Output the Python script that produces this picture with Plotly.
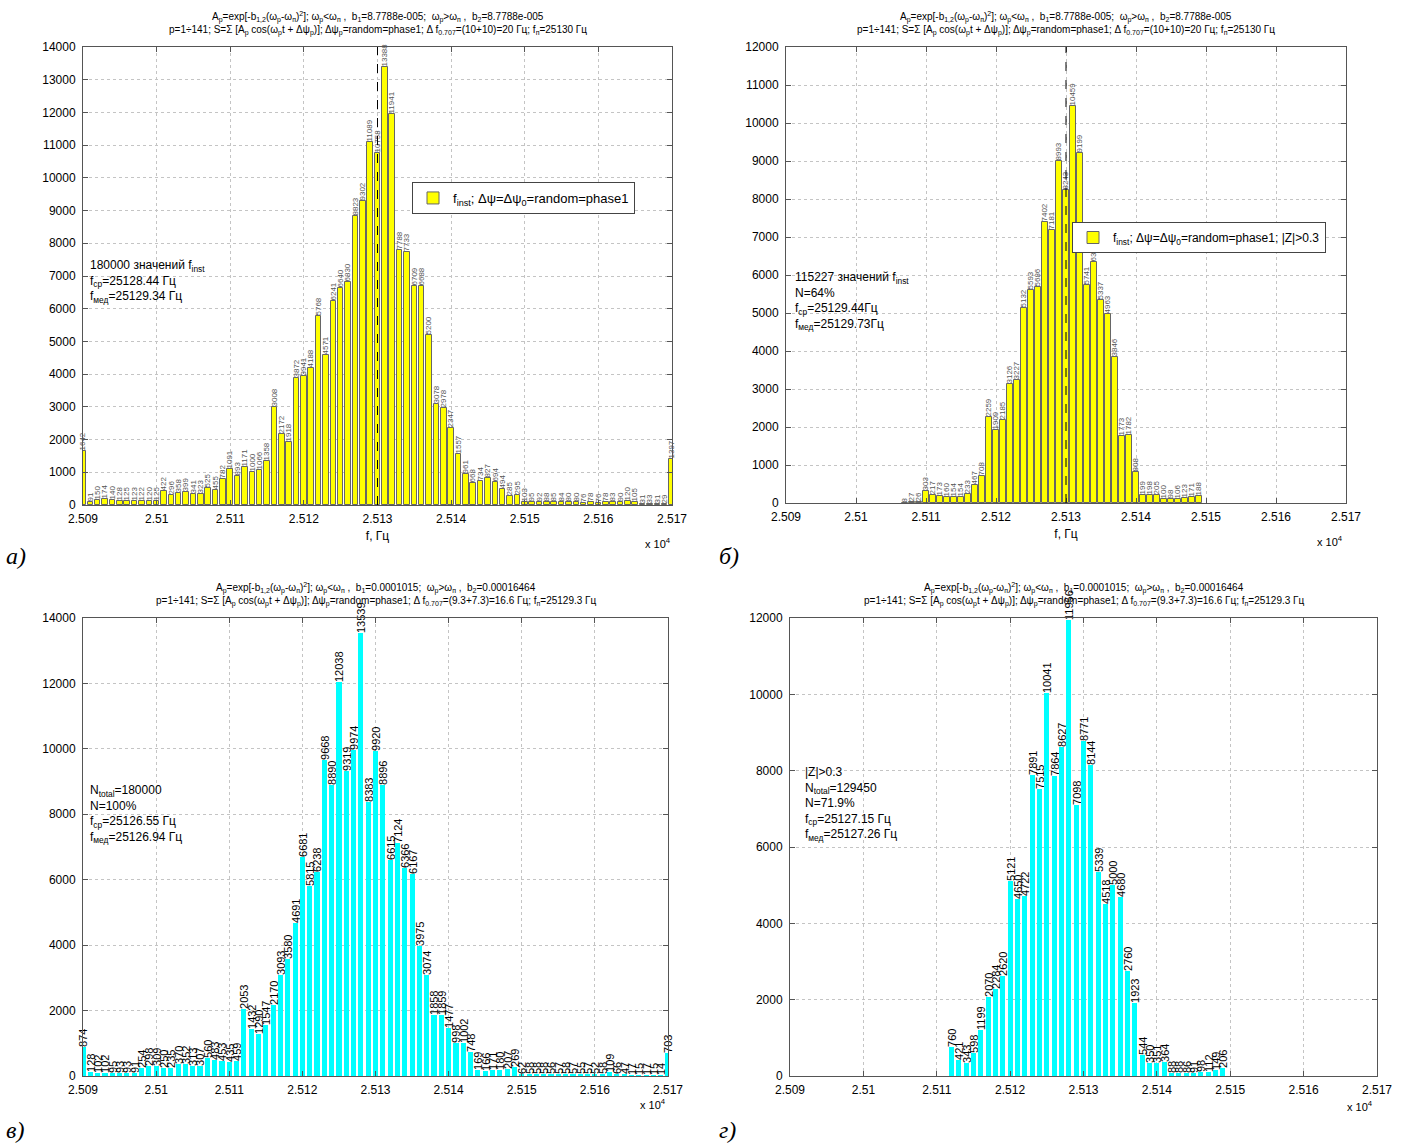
import plotly.graph_objects as go

# ---------------- DATA ----------------
bin_start_a = 25090
counts_a = [1642, 91, 150, 174, 140, 128, 125, 123, 122, 120, 125,
            422, 296, 358, 399, 341, 323, 525, 455, 782,
            1091, 893, 1171, 1000, 1066, 1358, 3008, 2172, 1918, 3872,
            3941, 4188, 5768, 4571, 6241, 6640, 6830, 8823, 9302, 11089,
            10758, 13388, 11941, 7788, 7733, 6709, 6688, 5200, 3078, 2978,
            2347, 1557, 961, 668, 734, 827, 694, 494, 285, 295,
            103, 95, 92, 88, 85, 84, 80, 80, 76, 78,
            76, 78, 83, 90, 120, 105, 31, 33, 31, 29,
            1397]

bin_start_b = 25107
counts_b = [8, 27, 26,
            303, 217, 173, 160, 154, 154, 233, 467, 708, 2259,
            1909, 2185, 3126, 3227, 5132, 5593, 5686, 7402, 7181, 8993,
            8243, 10459, 9199, 5741, 6339, 5337, 4963, 3846, 1773, 1782,
            808, 199, 198, 205, 100, 98, 106, 123, 171, 188]

bin_start_c = 25090
counts_c = [874, 128, 102, 102, 95, 93, 93, 91, 254, 298,
            309, 250, 235, 370, 352, 313, 307, 560, 483, 453,
            435, 459, 2053, 1432, 1290, 1547, 2170, 3093, 3580, 4691,
            6681, 5815, 6238, 9668, 8890, 12038, 9319, 9974, 13539, 8383,
            9920, 8896, 6615, 7124, 6366, 6167, 3975, 3074, 1858, 1859,
            1477, 998, 1002, 748, 169, 166, 171, 180, 207, 269,
            62, 58, 58, 58, 56, 57, 58, 57, 55, 57,
            52, 58, 109, 66, 47, 17, 15, 17, 15, 14,
            703]

bin_start_d = 25112
counts_d = [760, 421, 343, 598, 1199, 2070, 2284, 2620,
            5121, 4650, 4722, 7891, 7515, 10041, 7864, 8627, 11956, 7098,
            8771, 8144, 5339, 4518, 5000, 4680, 2760, 1923, 544, 350,
            351, 364, 88, 88, 86, 91, 98, 112, 149, 206]

f_n_ab = 25130  # dashed line (f_п)

x_tick_vals = [25090, 25100, 25110, 25120, 25130, 25140, 25150, 25160, 25170]
x_tick_text = ["2.509", "2.51", "2.511", "2.512", "2.513", "2.514", "2.515", "2.516", "2.517"]

title_ab_1 = ("A<sub>p</sub>=exp[-b<sub>1,2</sub>(ω<sub>p</sub>-ω<sub>п</sub>)<sup>2</sup>]; "
              "ω<sub>p</sub>&lt;ω<sub>п</sub> ,  b<sub>1</sub>=8.7788e-005;  "
              "ω<sub>p</sub>&gt;ω<sub>п</sub> ,  b<sub>2</sub>=8.7788e-005")
title_ab_2 = ("p=1÷141; S=Σ [A<sub>p</sub> cos(ω<sub>p</sub>t + Δψ<sub>p</sub>)]; "
              "Δψ<sub>p</sub>=random=phase1; Δ f<sub>0.707</sub>=(10+10)=20 Гц; f<sub>п</sub>=25130 Гц")
title_cd_1 = ("A<sub>p</sub>=exp[-b<sub>1,2</sub>(ω<sub>p</sub>-ω<sub>п</sub>)<sup>2</sup>]; "
              "ω<sub>p</sub>&lt;ω<sub>п</sub> ,  b<sub>1</sub>=0.0001015;  "
              "ω<sub>p</sub>&gt;ω<sub>п</sub> ,  b<sub>2</sub>=0.00016464")
title_cd_2 = ("p=1÷141; S=Σ [A<sub>p</sub> cos(ω<sub>p</sub>t + Δψ<sub>p</sub>)]; "
              "Δψ<sub>p</sub>=random=phase1; Δ f<sub>0.707</sub>=(9.3+7.3)=16.6 Гц; f<sub>п</sub>=25129.3 Гц")

stats_a = "180000 значений f<sub>inst</sub><br>f<sub>ср</sub>=25128.44 Гц<br>f<sub>мед</sub>=25129.34 Гц"
stats_b = "115227 значений f<sub>inst</sub><br>N=64%<br>f<sub>ср</sub>=25129.44Гц<br>f<sub>мед</sub>=25129.73Гц"
stats_c = "N<sub>total</sub>=180000<br>N=100%<br>f<sub>ср</sub>=25126.55 Гц<br>f<sub>мед</sub>=25126.94 Гц"
stats_d = "|Z|&gt;0.3<br>N<sub>total</sub>=129450<br>N=71.9%<br>f<sub>ср</sub>=25127.15 Гц<br>f<sub>мед</sub>=25127.26 Гц"

legend_a = "f<sub>inst</sub>; Δψ=Δψ<sub>0</sub>=random=phase1"
legend_b = "f<sub>inst</sub>; Δψ=Δψ<sub>0</sub>=random=phase1; |Z|&gt;0.3"

panel_labels = ["а)", "б)", "в)", "г)"]

# ---------------- FIGURE ----------------
W, H = 1409, 1144
FONT = "Liberation Sans, Arial, sans-serif"


def px_x(p):
    return p / W


def px_y(p):
    return 1 - p / H


fig = go.Figure()


def bins(start, counts):
    return [start + i for i in range(len(counts))]


common_bar = dict(textposition="outside", textangle=-90, constraintext="none",
                  cliponaxis=False)

fig.add_trace(go.Bar(x=bins(bin_start_a, counts_a), y=counts_a, text=counts_a,
                     width=0.75, marker=dict(color="#ffff00", line=dict(color="#666666", width=1)),
                     textfont=dict(size=8, color="#555555", family=FONT),
                     name=legend_a, legend="legend", xaxis="x", yaxis="y", **common_bar))
fig.add_trace(go.Bar(x=bins(bin_start_b, counts_b), y=counts_b, text=counts_b,
                     width=0.75, marker=dict(color="#ffff00", line=dict(color="#666666", width=1)),
                     textfont=dict(size=8, color="#555555", family=FONT),
                     name=legend_b, legend="legend2", xaxis="x2", yaxis="y2", **common_bar))
fig.add_trace(go.Bar(x=bins(bin_start_c, counts_c), y=counts_c, text=counts_c,
                     width=0.7, marker=dict(color="#00ffff", line=dict(width=0)),
                     textfont=dict(size=11, color="#000000", family=FONT),
                     showlegend=False, xaxis="x3", yaxis="y3", **common_bar))
fig.add_trace(go.Bar(x=bins(bin_start_d, counts_d), y=counts_d, text=counts_d,
                     width=0.7, marker=dict(color="#00ffff", line=dict(width=0)),
                     textfont=dict(size=11, color="#000000", family=FONT),
                     showlegend=False, xaxis="x4", yaxis="y4", **common_bar))

panels = [
    ("xaxis", "yaxis", (83, 672), (47, 505), 14000, 1000),
    ("xaxis2", "yaxis2", (786, 1346), (47, 503), 12000, 1000),
    ("xaxis3", "yaxis3", (83, 668), (618, 1076), 14000, 2000),
    ("xaxis4", "yaxis4", (790, 1377), (618, 1076), 12000, 2000),
]

axis_common = dict(showline=True, linecolor="#555555", linewidth=1, mirror="ticks",
                   ticks="inside", ticklen=5, tickcolor="#555555",
                   showgrid=True, gridcolor="#c4c4c4", griddash="dot", gridwidth=1,
                   zeroline=False, automargin=False,
                   tickfont=dict(size=12, color="#000000", family=FONT))

layout_axes = {}
for i, (xa, ya, (x0, x1), (y0, y1), ymax, dt) in enumerate(panels):
    n = "" if i == 0 else str(i + 1)
    layout_axes[xa] = dict(domain=[px_x(x0), px_x(x1)], anchor="y" + n,
                           range=[25090, 25170], tickvals=x_tick_vals, ticktext=x_tick_text,
                           ticklabelstandoff=3, **axis_common)
    layout_axes[ya] = dict(domain=[px_y(y1), px_y(y0)], anchor="x" + n,
                           range=[0, ymax], dtick=dt, tick0=0, tickformat="d",
                           ticklabelstandoff=4, **axis_common)

layout_axes["xaxis"]["title"] = dict(text="f, Гц", font=dict(size=12, family=FONT), standoff=6)
layout_axes["xaxis2"]["title"] = dict(text="f, Гц", font=dict(size=12, family=FONT), standoff=6)

fig.update_layout(**layout_axes)

ann = []
for (cx, ytop, l1, l2) in [((83 + 672) / 2, 17, title_ab_1, title_ab_2),
                            ((786 + 1346) / 2, 17, title_ab_1, title_ab_2),
                            ((83 + 668) / 2, 588, title_cd_1, title_cd_2),
                            ((790 + 1377) / 2, 588, title_cd_1, title_cd_2)]:
    ann.append(dict(text=l1, x=px_x(cx), y=px_y(ytop), xref="paper", yref="paper",
                    xanchor="center", yanchor="middle", showarrow=False,
                    font=dict(size=10, family=FONT, color="#000")))
    ann.append(dict(text=l2, x=px_x(cx), y=px_y(ytop + 13), xref="paper", yref="paper",
                    xanchor="center", yanchor="middle", showarrow=False,
                    font=dict(size=10, family=FONT, color="#000")))

for (txt, x, y) in [(stats_a, 88, 256), (stats_b, 793, 268), (stats_c, 88, 781), (stats_d, 803, 763)]:
    ann.append(dict(text=txt, x=px_x(x), y=px_y(y), xref="paper", yref="paper",
                    xanchor="left", yanchor="top", align="left", showarrow=False,
                    font=dict(size=12, family=FONT, color="#000")))

for (x, y) in [(643, 543), (1315, 541), (638, 1104), (1345, 1106)]:
    ann.append(dict(text="x 10<sup>4</sup>", x=px_x(x), y=px_y(y), xref="paper", yref="paper",
                    xanchor="left", yanchor="middle", showarrow=False,
                    font=dict(size=11, family=FONT, color="#000")))

for (lab, x, y) in zip(panel_labels, [4, 717, 4, 717], [556, 556, 1130, 1130]):
    ann.append(dict(text="<i>" + lab + "</i>", x=px_x(x), y=px_y(y), xref="paper", yref="paper",
                    xanchor="left", yanchor="middle", showarrow=False,
                    font=dict(size=24, family="Liberation Serif, Times New Roman, serif", color="#000")))

shapes = [
    dict(type="line", xref="x", yref="y domain", x0=f_n_ab, x1=f_n_ab, y0=0, y1=1,
         line=dict(color="#000", width=1, dash="dash")),
    dict(type="line", xref="x2", yref="y2 domain", x0=f_n_ab, x1=f_n_ab, y0=0, y1=1,
         line=dict(color="#000", width=1, dash="dash")),
]

fig.update_layout(
    width=W, height=H, margin=dict(l=0, r=0, t=0, b=0),
    paper_bgcolor="white", plot_bgcolor="white",
    font=dict(family=FONT, size=12, color="#000"),
    bargap=0, barmode="overlay",
    annotations=ann, shapes=shapes,
    legend=dict(x=px_x(412), y=px_y(182), xanchor="left", yanchor="top",
                bordercolor="#444", borderwidth=1, bgcolor="white",
                font=dict(size=13, family=FONT)),
    legend2=dict(x=px_x(1072), y=px_y(222), xanchor="left", yanchor="top",
                 bordercolor="#444", borderwidth=1, bgcolor="white",
                 font=dict(size=12, family=FONT)),
)

fig.write_html("out.html")
